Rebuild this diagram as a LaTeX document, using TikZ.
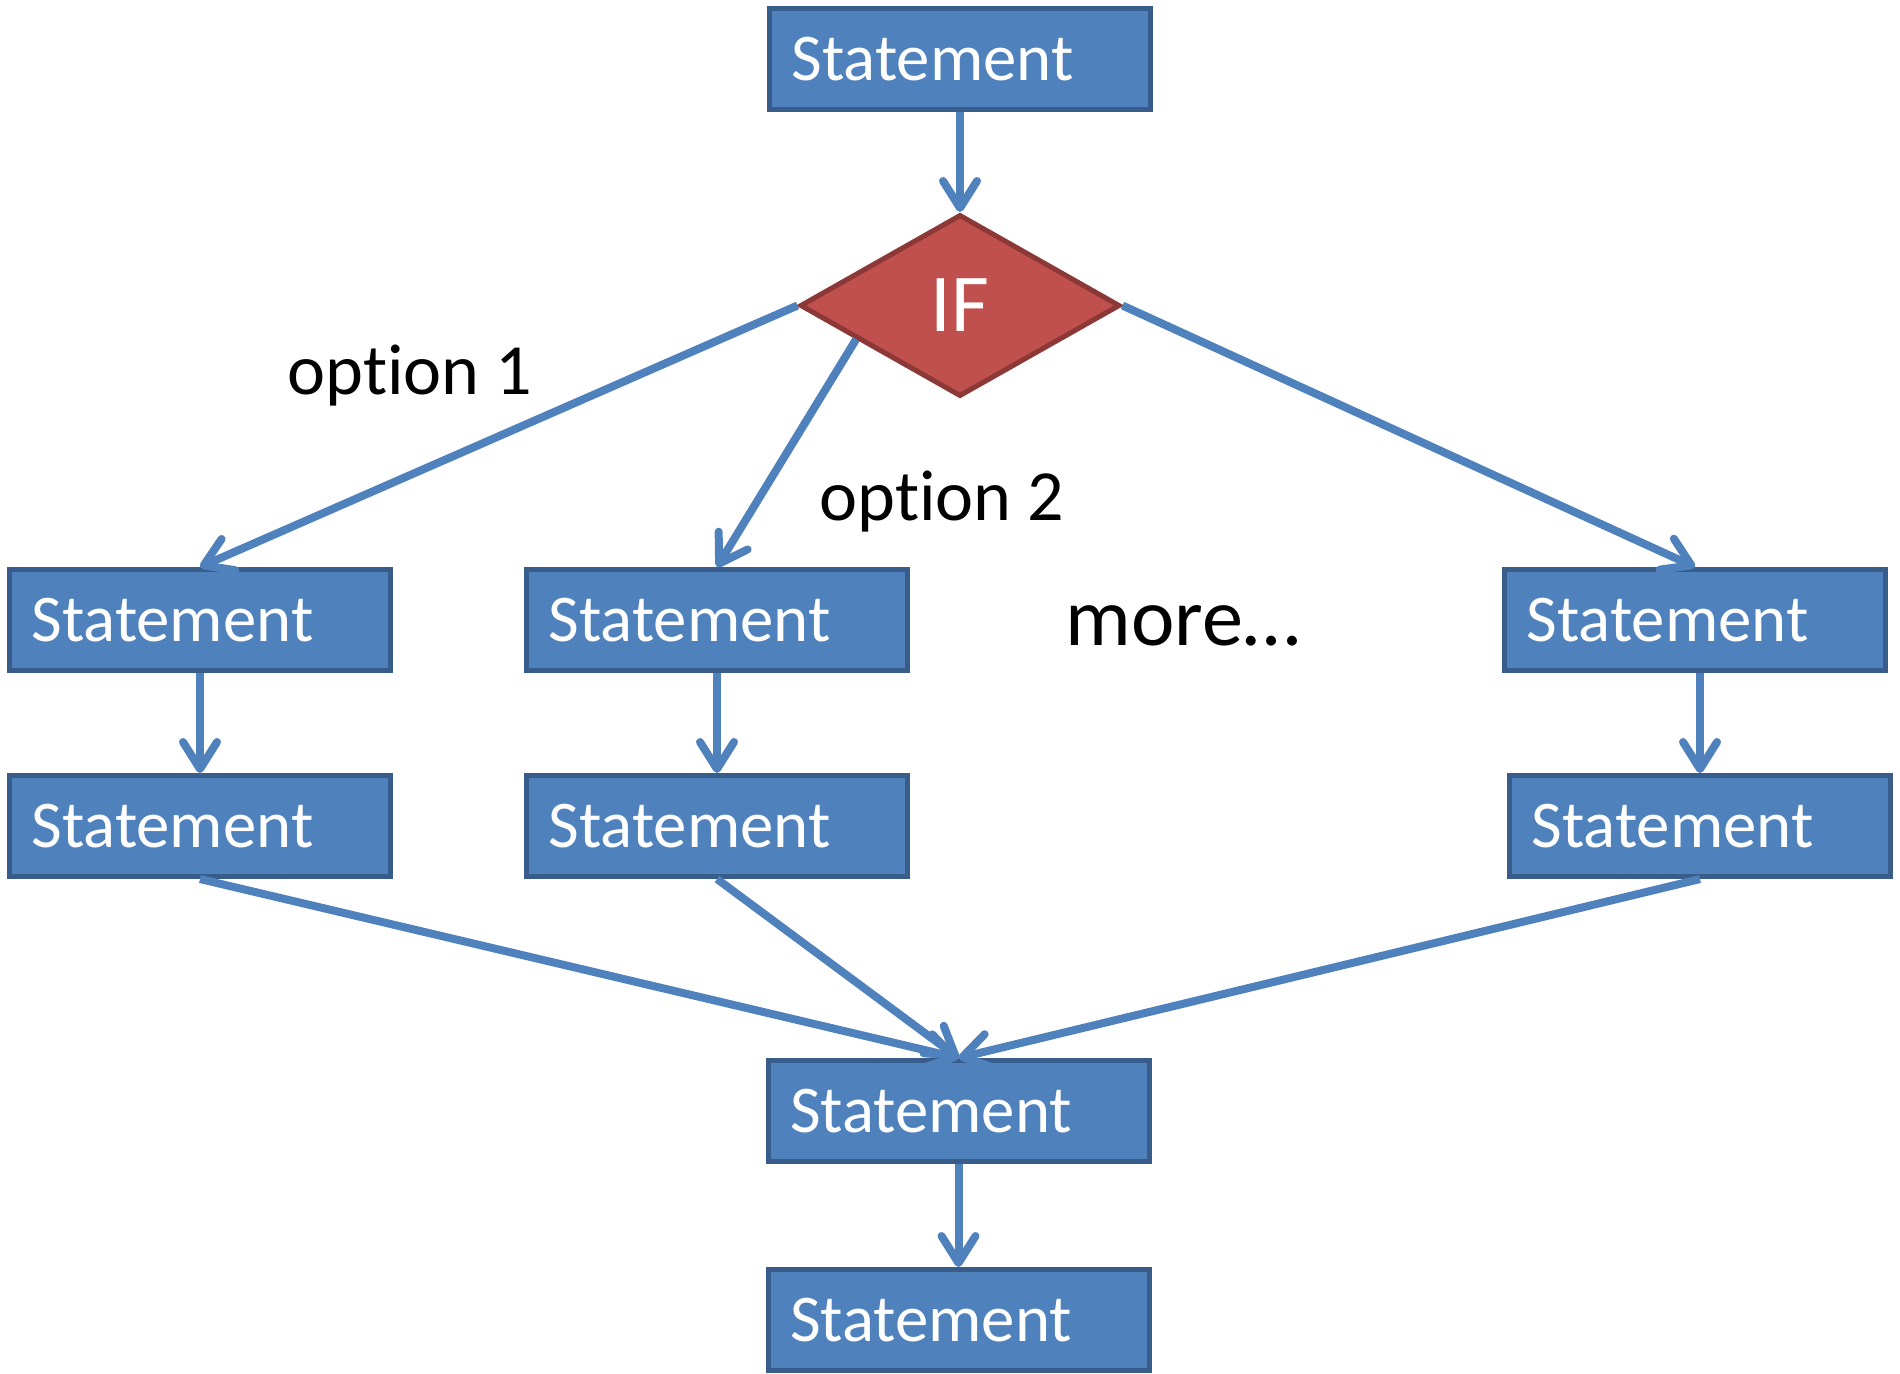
\documentclass[tikz,border=0pt]{standalone}
\usepackage{fontspec}
\setmainfont{Carlito}[Ligatures=NoCommon]
\usetikzlibrary{arrows.meta,shapes.geometric,positioning}
\definecolor{boxblue}{HTML}{4F81BD}
\definecolor{boxedge}{HTML}{385D8A}
\definecolor{ifred}{HTML}{C0504D}
\definecolor{ifedge}{HTML}{8C3836}

\begin{document}
\begin{tikzpicture}[->,>={Straight Barb[length=0.27cm,width=0.34cm,round]},node distance=1cm]
  \tikzstyle{stmt}=[rectangle,fill=boxblue,draw=boxedge,line width=0.05cm,text=white,
    font=\fontsize{19}{22}\selectfont,text width=3.37cm,align=left,inner xsep=0.22cm,minimum height=1.01cm]
  \tikzstyle{ifnode}=[diamond,fill=ifred,draw=ifedge,line width=0.05cm,text=white,
    font=\fontsize{23.4}{28}\selectfont,minimum width=3.2cm,minimum height=1.82cm,inner sep=0pt]
  \tikzstyle{lbl}=[font=\fontsize{20.5}{24}\selectfont,anchor=base]
  \tikzstyle{every edge}=[draw=boxblue,line width=0.08cm]

  \useasboundingbox (0,0) rectangle (19,-13.73);

  \node[stmt]   (top) at (9.60,-0.59) {Statement};
  \node[ifnode] (if)  [below=1.0cm of top] {IF};

  \node[stmt] (a1) at (2.00,-6.20) {Statement};
  \node[stmt] (a2) [right=1.31cm of a1] {Statement};
  \node[stmt] (a3) at (16.95,-6.20) {Statement};
  \node[stmt] (b1) [below=of a1] {Statement};
  \node[stmt] (b2) [below=of a2] {Statement};
  \node[stmt] (b3) [below=of a3,xshift=0.05cm] {Statement};

  \node[stmt] (end1) at (9.585,-11.11) {Statement};
  \node[stmt] (end2) [below=1.03cm of end1] {Statement};

  \node[lbl] (opt1) at (4.10,-3.94) {option 1};
  \node[lbl] (opt2) at (9.42,-5.20) {option 2};
  \node[lbl,font=\fontsize{23.4}{28}\selectfont] (more) at (11.83,-6.45) {more…};

  \path
  (top) edge (if)
  (if.west) edge (a1.north)
  (if.198) edge (a2.north)
  (if.east) edge (a3.north)
  (a1) edge (b1)
  (a2) edge (b2)
  (a3.south -| b3.north) edge (b3)
  (b1.south) edge (end1.north)
  (b2.south) edge (end1.north)
  (b3.south) edge (end1.north)
  (end1) edge (end2);
\end{tikzpicture}
\end{document}
